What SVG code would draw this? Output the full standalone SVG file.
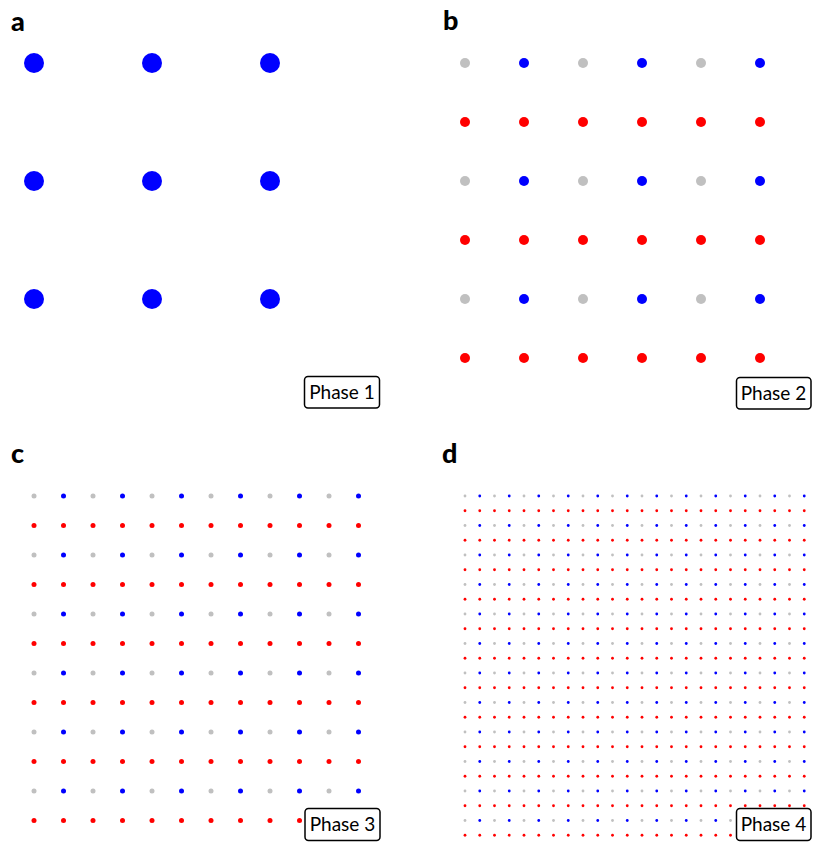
<svg xmlns="http://www.w3.org/2000/svg" width="831" height="861" viewBox="0 0 831 861">
<style>
.lbl{font-family:Lato,"Liberation Sans",sans-serif;font-weight:900;font-size:27px;fill:#000}
.ph{font-family:Lato,"Liberation Sans",sans-serif;font-size:19px;fill:#000;text-anchor:middle}
.box{fill:#fff;stroke:#000;stroke-width:1.5}
.g{fill:#c0c0c0}.b{fill:#0000ff}.r{fill:#ff0000}
</style>
<defs>
<g id="c_gb">
<circle class="g" cx="34" cy="0" r="2.5"/><circle class="b" cx="63.5" cy="0" r="2.5"/><circle class="g" cx="93" cy="0" r="2.5"/><circle class="b" cx="122.5" cy="0" r="2.5"/><circle class="g" cx="152" cy="0" r="2.5"/><circle class="b" cx="181.5" cy="0" r="2.5"/><circle class="g" cx="211" cy="0" r="2.5"/><circle class="b" cx="240.5" cy="0" r="2.5"/><circle class="g" cx="270" cy="0" r="2.5"/><circle class="b" cx="299.5" cy="0" r="2.5"/><circle class="g" cx="329" cy="0" r="2.5"/><circle class="b" cx="358.5" cy="0" r="2.5"/>
</g>
<g id="c_r" class="r">
<circle cx="34" cy="0" r="2.5"/><circle cx="63.5" cy="0" r="2.5"/><circle cx="93" cy="0" r="2.5"/><circle cx="122.5" cy="0" r="2.5"/><circle cx="152" cy="0" r="2.5"/><circle cx="181.5" cy="0" r="2.5"/><circle cx="211" cy="0" r="2.5"/><circle cx="240.5" cy="0" r="2.5"/><circle cx="270" cy="0" r="2.5"/><circle cx="299.5" cy="0" r="2.5"/><circle cx="329" cy="0" r="2.5"/><circle cx="358.5" cy="0" r="2.5"/>
</g>
<g id="d_gb">
<circle class="g" cx="465" cy="0" r="1.4"/><circle class="b" cx="479.75" cy="0" r="1.4"/><circle class="g" cx="494.5" cy="0" r="1.4"/><circle class="b" cx="509.25" cy="0" r="1.4"/><circle class="g" cx="524" cy="0" r="1.4"/><circle class="b" cx="538.75" cy="0" r="1.4"/><circle class="g" cx="553.5" cy="0" r="1.4"/><circle class="b" cx="568.25" cy="0" r="1.4"/><circle class="g" cx="583" cy="0" r="1.4"/><circle class="b" cx="597.75" cy="0" r="1.4"/><circle class="g" cx="612.5" cy="0" r="1.4"/><circle class="b" cx="627.25" cy="0" r="1.4"/><circle class="g" cx="642" cy="0" r="1.4"/><circle class="b" cx="656.75" cy="0" r="1.4"/><circle class="g" cx="671.5" cy="0" r="1.4"/><circle class="b" cx="686.25" cy="0" r="1.4"/><circle class="g" cx="701" cy="0" r="1.4"/><circle class="b" cx="715.75" cy="0" r="1.4"/><circle class="g" cx="730.5" cy="0" r="1.4"/><circle class="b" cx="745.25" cy="0" r="1.4"/><circle class="g" cx="760" cy="0" r="1.4"/><circle class="b" cx="774.75" cy="0" r="1.4"/><circle class="g" cx="789.5" cy="0" r="1.4"/><circle class="b" cx="804.25" cy="0" r="1.4"/>
</g>
<g id="d_r" class="r">
<circle cx="465" cy="0" r="1.4"/><circle cx="479.75" cy="0" r="1.4"/><circle cx="494.5" cy="0" r="1.4"/><circle cx="509.25" cy="0" r="1.4"/><circle cx="524" cy="0" r="1.4"/><circle cx="538.75" cy="0" r="1.4"/><circle cx="553.5" cy="0" r="1.4"/><circle cx="568.25" cy="0" r="1.4"/><circle cx="583" cy="0" r="1.4"/><circle cx="597.75" cy="0" r="1.4"/><circle cx="612.5" cy="0" r="1.4"/><circle cx="627.25" cy="0" r="1.4"/><circle cx="642" cy="0" r="1.4"/><circle cx="656.75" cy="0" r="1.4"/><circle cx="671.5" cy="0" r="1.4"/><circle cx="686.25" cy="0" r="1.4"/><circle cx="701" cy="0" r="1.4"/><circle cx="715.75" cy="0" r="1.4"/><circle cx="730.5" cy="0" r="1.4"/><circle cx="745.25" cy="0" r="1.4"/><circle cx="760" cy="0" r="1.4"/><circle cx="774.75" cy="0" r="1.4"/><circle cx="789.5" cy="0" r="1.4"/><circle cx="804.25" cy="0" r="1.4"/>
</g>
</defs>
<rect width="831" height="861" fill="#fff"/>

<g id="panel-a">
<text class="lbl" x="11" y="31">a</text>
<g class="b">
<circle cx="34" cy="63" r="10"/><circle cx="152" cy="63" r="10"/><circle cx="270" cy="63" r="10"/>
<circle cx="34" cy="181" r="10"/><circle cx="152" cy="181" r="10"/><circle cx="270" cy="181" r="10"/>
<circle cx="34" cy="299" r="10"/><circle cx="152" cy="299" r="10"/><circle cx="270" cy="299" r="10"/>
</g>
<g id="phase1"><rect class="box" x="304.5" y="376.5" width="75" height="31.5" rx="3.5"/><text class="ph" x="342" y="398.5">Phase 1</text></g>
</g>

<g id="panel-b">
<text class="lbl" x="443" y="30">b</text>
<g>
<circle class="g" cx="465" cy="63" r="5"/><circle class="b" cx="524" cy="63" r="5"/><circle class="g" cx="583" cy="63" r="5"/><circle class="b" cx="642" cy="63" r="5"/><circle class="g" cx="701" cy="63" r="5"/><circle class="b" cx="760" cy="63" r="5"/>
<circle class="r" cx="465" cy="122" r="5"/><circle class="r" cx="524" cy="122" r="5"/><circle class="r" cx="583" cy="122" r="5"/><circle class="r" cx="642" cy="122" r="5"/><circle class="r" cx="701" cy="122" r="5"/><circle class="r" cx="760" cy="122" r="5"/>
<circle class="g" cx="465" cy="181" r="5"/><circle class="b" cx="524" cy="181" r="5"/><circle class="g" cx="583" cy="181" r="5"/><circle class="b" cx="642" cy="181" r="5"/><circle class="g" cx="701" cy="181" r="5"/><circle class="b" cx="760" cy="181" r="5"/>
<circle class="r" cx="465" cy="240" r="5"/><circle class="r" cx="524" cy="240" r="5"/><circle class="r" cx="583" cy="240" r="5"/><circle class="r" cx="642" cy="240" r="5"/><circle class="r" cx="701" cy="240" r="5"/><circle class="r" cx="760" cy="240" r="5"/>
<circle class="g" cx="465" cy="299" r="5"/><circle class="b" cx="524" cy="299" r="5"/><circle class="g" cx="583" cy="299" r="5"/><circle class="b" cx="642" cy="299" r="5"/><circle class="g" cx="701" cy="299" r="5"/><circle class="b" cx="760" cy="299" r="5"/>
<circle class="r" cx="465" cy="358" r="5"/><circle class="r" cx="524" cy="358" r="5"/><circle class="r" cx="583" cy="358" r="5"/><circle class="r" cx="642" cy="358" r="5"/><circle class="r" cx="701" cy="358" r="5"/><circle class="r" cx="760" cy="358" r="5"/>
</g>
<g id="phase2"><rect class="box" x="736.5" y="377.5" width="74.5" height="31.5" rx="3.5"/><text class="ph" x="773.5" y="399.5">Phase 2</text></g>
</g>

<g id="panel-c">
<text class="lbl" x="11" y="463">c</text>
<use href="#c_gb" y="496"/><use href="#c_r" y="525.5"/>
<use href="#c_gb" y="555"/><use href="#c_r" y="584.5"/>
<use href="#c_gb" y="614"/><use href="#c_r" y="643.5"/>
<use href="#c_gb" y="673"/><use href="#c_r" y="702.5"/>
<use href="#c_gb" y="732"/><use href="#c_r" y="761.5"/>
<use href="#c_gb" y="791"/><use href="#c_r" y="820.5"/>
<g id="phase3"><rect class="box" x="305" y="808.5" width="75" height="32" rx="3.5"/><text class="ph" x="342.5" y="830.5">Phase 3</text></g>
</g>

<g id="panel-d">
<text class="lbl" x="442" y="463">d</text>
<use href="#d_gb" y="496"/><use href="#d_r" y="510.75"/>
<use href="#d_gb" y="525.5"/><use href="#d_r" y="540.25"/>
<use href="#d_gb" y="555"/><use href="#d_r" y="569.75"/>
<use href="#d_gb" y="584.5"/><use href="#d_r" y="599.25"/>
<use href="#d_gb" y="614"/><use href="#d_r" y="628.75"/>
<use href="#d_gb" y="643.5"/><use href="#d_r" y="658.25"/>
<use href="#d_gb" y="673"/><use href="#d_r" y="687.75"/>
<use href="#d_gb" y="702.5"/><use href="#d_r" y="717.25"/>
<use href="#d_gb" y="732"/><use href="#d_r" y="746.75"/>
<use href="#d_gb" y="761.5"/><use href="#d_r" y="776.25"/>
<use href="#d_gb" y="791"/><use href="#d_r" y="805.75"/>
<use href="#d_gb" y="820.5"/><use href="#d_r" y="835.25"/>
<g id="phase4"><rect class="box" x="736.5" y="808.5" width="74.5" height="32" rx="3.5"/><text class="ph" x="773.5" y="830.5">Phase 4</text></g>
</g>
</svg>
